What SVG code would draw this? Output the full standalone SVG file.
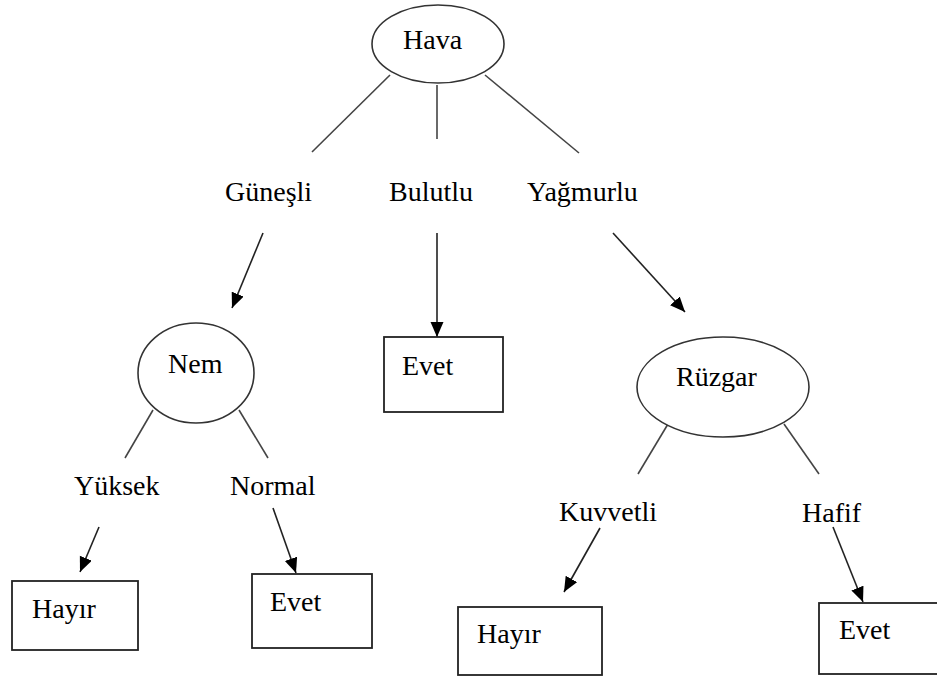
<svg xmlns="http://www.w3.org/2000/svg" width="937" height="678" viewBox="0 0 937 678">
<defs>
<marker id="ah" markerUnits="userSpaceOnUse" markerWidth="16" markerHeight="14" refX="15" refY="6.5" orient="auto">
<path d="M0,0 L15,6.5 L0,13 z" fill="#000"/>
</marker>
<style>
text{font-family:"Liberation Serif","Times New Roman",serif;font-size:28px;fill:#000}
.n{fill:#fff;stroke:#333;stroke-width:1.6}
.b{fill:#fff;stroke:#222;stroke-width:1.8}
.l{stroke:#444;stroke-width:1.6;fill:none}
.a{stroke:#222;stroke-width:1.6;fill:none;marker-end:url(#ah)}
</style>
</defs>
<rect width="937" height="678" fill="#fff"/>
<g id="connectors">
<line class="l" x1="390" y1="75" x2="312" y2="152"/>
<line class="l" x1="437" y1="85" x2="437" y2="139"/>
<line class="l" x1="485" y1="75" x2="579" y2="153"/>
<line class="a" x1="263" y1="233" x2="232" y2="308"/>
<line class="a" x1="437" y1="233" x2="437" y2="337"/>
<line class="a" x1="613" y1="233" x2="685" y2="312"/>
<line class="l" x1="153" y1="410" x2="125" y2="458"/>
<line class="l" x1="239" y1="410" x2="268" y2="458"/>
<line class="a" x1="99" y1="527" x2="80" y2="572"/>
<line class="a" x1="273" y1="508" x2="296" y2="573"/>
<line class="l" x1="668" y1="424" x2="638" y2="474"/>
<line class="l" x1="784" y1="424" x2="819" y2="474"/>
<line class="a" x1="600" y1="528" x2="564" y2="592"/>
<line class="a" x1="833" y1="527" x2="863" y2="602"/>
</g>
<g id="hava"><ellipse class="n" cx="438" cy="44" rx="66" ry="39"/><text x="403" y="49">Hava</text></g>
<g id="gunesli"><text x="225" y="201">Güneşli</text></g>
<g id="bulutlu"><text x="389" y="201">Bulutlu</text></g>
<g id="yagmurlu"><text x="527" y="201">Yağmurlu</text></g>
<g id="nem"><ellipse class="n" cx="196" cy="373" rx="58" ry="50"/><text x="168" y="373">Nem</text></g>
<g id="evet1"><rect class="b" x="384" y="337" width="119" height="75"/><text x="402" y="375">Evet</text></g>
<g id="ruzgar"><ellipse class="n" cx="723" cy="387" rx="86" ry="50"/><text x="676" y="386">Rüzgar</text></g>
<g id="yuksek"><text x="74" y="495">Yüksek</text></g>
<g id="normal"><text x="230" y="495">Normal</text></g>
<g id="hayir1"><rect class="b" x="12" y="581" width="126" height="69"/><text x="32" y="618">Hayır</text></g>
<g id="evet2"><rect class="b" x="252" y="574" width="120" height="74"/><text x="270" y="611">Evet</text></g>
<g id="kuvvetli"><text x="559" y="521">Kuvvetli</text></g>
<g id="hafif"><text x="802" y="522">Hafif</text></g>
<g id="hayir2"><rect class="b" x="458" y="607" width="144" height="68"/><text x="477" y="643">Hayır</text></g>
<g id="evet3"><rect class="b" x="819" y="603" width="125" height="71"/><text x="839" y="639">Evet</text></g>
</svg>
